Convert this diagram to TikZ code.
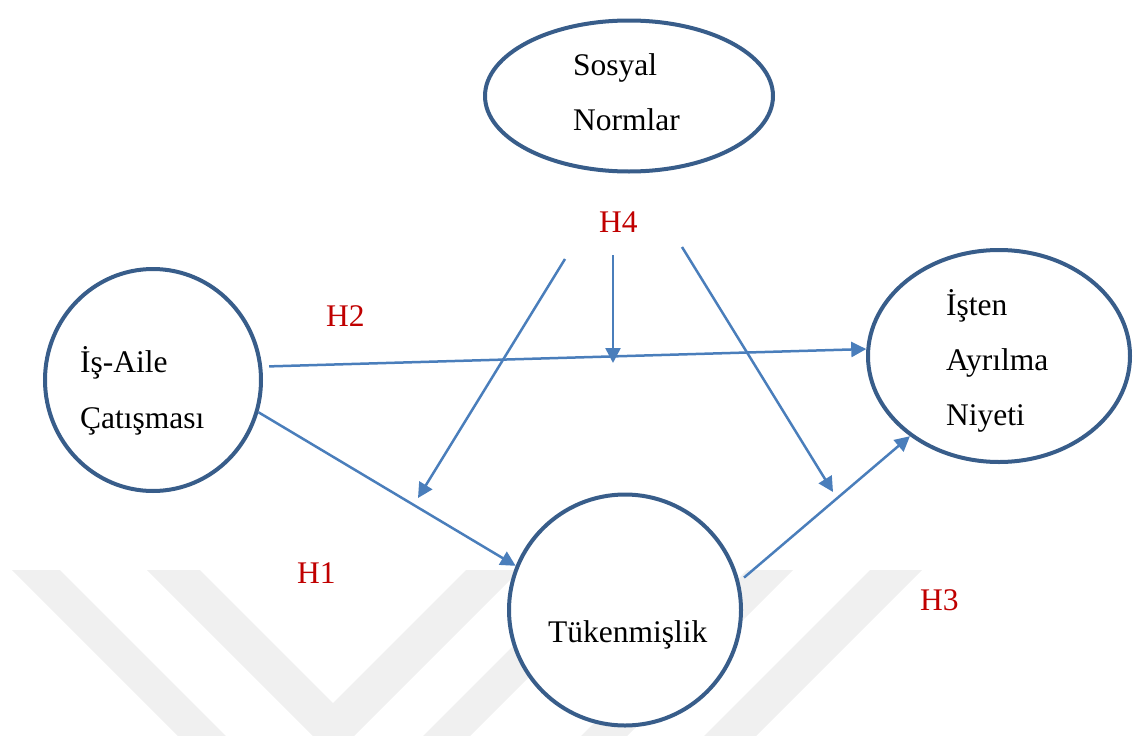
\documentclass[tikz,border=0pt]{standalone}
\usepackage{fontspec}
\setmainfont{Liberation Serif}
\usetikzlibrary{arrows.meta,shapes.geometric}
\definecolor{framecol}{HTML}{385D8A}
\definecolor{linkcol}{HTML}{4A7EBB}
\definecolor{hypcol}{HTML}{C00000}

\begin{document}
\begin{tikzpicture}[x=1pt, y=-1pt, >={Triangle[length=15pt,width=15pt]},
    var/.style={ellipse, draw=framecol, line width=4pt, fill=white, inner sep=0pt},
    word/.style={anchor=base west, inner sep=0pt, font=\fontsize{31.5}{36}\selectfont},
    hyp/.style={word, text=hypcol},
    link/.style={->, color=linkcol, line width=2.5pt},
    wmark/.style={fill=black!6}]
    \useasboundingbox (0,0) rectangle (1138,736);

    % Watermark
    \fill[wmark] (12,570) -- (60,570) -- (226,736) -- (178,736) -- cycle;
    \fill[wmark] (147,570) -- (200,570) -- (333,703) -- (466,570) -- (520,570)
        -- (354,736) -- (313,736) -- cycle;
    \fill[wmark] (589,570) -- (636,570) -- (470,736) -- (423,736) -- cycle;
    \fill[wmark] (747,570) -- (793,570) -- (627,736) -- (581,736) -- cycle;
    \fill[wmark] (870,570) -- (922,570) -- (756,736) -- (704,736) -- cycle;

    % Constructs
    \node[var, minimum width=288pt, minimum height=151pt] (SN) at (629,96) {};
    \node[var, minimum width=216pt, minimum height=222pt] (IA) at (153,380) {};
    \node[var, minimum width=262pt, minimum height=212pt] (AN) at (999,356) {};
    \node[var, minimum width=232pt, minimum height=231pt] (TK) at (625,610) {};

    \node[word] (SN1) at (573,75) {Sosyal};
    \node[word] (SN2) at (573,130) {Normlar};
    \node[word] (IA1) at (80,372) {İş-Aile};
    \node[word] (IA2) at (80,428) {Çatışması};
    \node[word] (AN1) at (946,315) {İşten};
    \node[word] (AN2) at (946,370) {Ayrılma};
    \node[word] (AN3) at (946,425) {Niyeti};
    \node[word] (TK1) at (548,642) {Tükenmişlik};

    % Hypotheses
    \node[hyp] (H1) at (297,583) {H1};
    \node[hyp] (H2) at (326,326) {H2};
    \node[hyp] (H3) at (920,610) {H3};
    \node[hyp] (H4) at (599,232) {H4};

    % Direct paths
    \draw[link, shorten <=7pt] (IA.7) -- (AN.177);
    \draw[link] (IA.-17) -- (TK.158);
    \draw[link, shorten <=6pt] (TK.14) -- (AN.222);

    % Moderation arrows
    \coordinate (V0) at (613,255);
    \coordinate (V1) at (613,363);
    \coordinate (L0) at (565,259);
    \coordinate (L1) at (418,498);
    \coordinate (R0) at (682,247);
    \coordinate (R1) at (833,492);
    \draw[link] (V0) -- (V1);
    \draw[link] (L0) -- (L1);
    \draw[link] (R0) -- (R1);
\end{tikzpicture}
\end{document}
